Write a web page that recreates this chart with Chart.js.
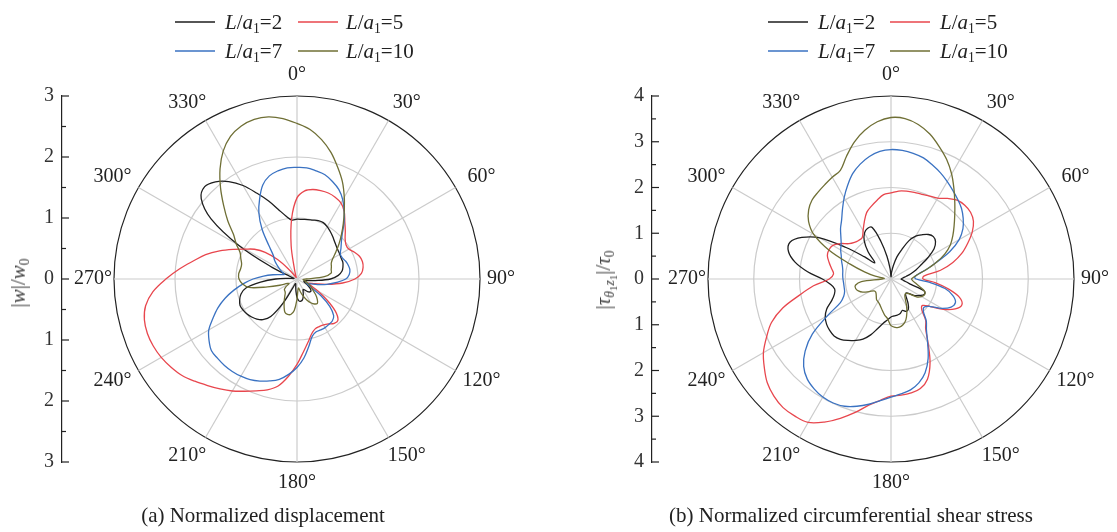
<!DOCTYPE html>
<html>
<head>
<meta charset="utf-8">
<title>Normalized displacement and circumferential shear stress</title>
<script src="https://cdn.jsdelivr.net/npm/chart.js@4.4.1/dist/chart.umd.min.js"></script>
<style>
  html, body { margin: 0; padding: 0; background: #fff; }
  body { width: 1117px; height: 532px; position: relative; overflow: hidden;
         font-family: 'Liberation Serif', 'Times New Roman', serif; color: #222; }
  .chartBox { position: absolute; top: 0; }
  .legLine { position: absolute; width: 40px; height: 4px; line-height: 0; }
  .legLine svg { display: block; }
  .legText { position: absolute; font-size: 21px; line-height: 24px; white-space: nowrap; }
  sub { font-size: 65%; vertical-align: -0.3em; line-height: 0; }
  sub sub { font-size: 80%; vertical-align: -0.25em; }
  .ytitle { position: absolute; font-size: 21px; line-height: 24px; white-space: nowrap; color: #444;
            transform: translate(-50%, -50%) rotate(-90deg); }
  .caption { position: absolute; top: 502px; font-size: 21px; line-height: 26px; white-space: nowrap;
             transform: translateX(-50%); }
</style>
</head>
<body>

<div class="chartBox" style="left:0px"><canvas id="dispChart" width="533" height="532"></canvas></div>
<div class="chartBox" style="left:590px"><canvas id="shearChart" width="541" height="532"></canvas></div>

<div class="ytitle" style="left:18px; top:283px">|<i>w</i>|/<i>w</i><sub>0</sub></div>
<div class="ytitle" style="left:603px; top:280px">|<i>τ</i><sub><i>θ</i><sub>1</sub><i>z</i><sub>1</sub></sub>|/<i>τ</i><sub>0</sub></div>

<div class="caption" style="left:263px">(a) Normalized displacement</div>
<div class="caption" style="left:851px">(b) Normalized circumferential shear stress</div>

<script>
// angle of each sample, degrees clockwise from the top
const angleLabels = [
  0, 5, 10, 15, 20, 25, 30, 35, 40, 45, 50, 55,
  60, 65, 70, 75, 80, 85, 90, 95, 100, 105, 110, 115,
  120, 125, 130, 135, 140, 145, 150, 155, 160, 165, 170, 175,
  180, 185, 190, 195, 200, 205, 210, 215, 220, 225, 230, 235,
  240, 245, 250, 255, 260, 265, 270, 275, 280, 285, 290, 295,
  300, 305, 310, 315, 320, 325, 330, 335, 340, 345, 350, 355
];

const ratioValues = [2, 5, 7, 10];
const seriesNames = ['L/a₁=2', 'L/a₁=5', 'L/a₁=7', 'L/a₁=10'];
const seriesColors = ['#1e1e1e', '#e8464d', '#3a72c2', '#6f6f35'];

// (a) normalized displacement |w|/w0
const dispL2 = [
  0.98, 0.98, 0.99, 1.00, 1.02, 1.02, 0.99, 0.95, 0.91, 0.87, 0.84, 0.82,
  0.81, 0.80, 0.80, 0.78, 0.75, 0.68, 0.55, 0.30, 0.15, 0.12, 0.12, 0.15,
  0.20, 0.26, 0.30, 0.30, 0.27, 0.22, 0.20, 0.24, 0.30, 0.35, 0.37, 0.36,
  0.30, 0.20, 0.12, 0.08, 0.08, 0.15, 0.45, 0.75, 0.87, 0.93, 0.97, 1.00,
  1.02, 1.03, 1.00, 0.95, 0.85, 0.60, 0.35, 0.12, 0.05, 0.06, 0.12, 0.45,
  1.10, 1.72, 2.05, 2.14, 2.08, 1.95, 1.77, 1.55, 1.36, 1.18, 1.05, 0.97
];
const dispL5 = [
  1.33, 1.45, 1.49, 1.50, 1.50, 1.48, 1.44, 1.35, 1.22, 1.12, 1.03, 0.98,
  0.98, 1.04, 1.09, 1.11, 1.10, 1.06, 0.95, 0.75, 0.50, 0.30, 0.20, 0.25,
  0.40, 0.60, 0.82, 0.95, 0.95, 0.90, 0.87, 0.86, 0.87, 0.93, 1.05, 1.20,
  1.40, 1.60, 1.78, 1.88, 1.95, 2.03, 2.12, 2.20, 2.28, 2.37, 2.46, 2.52,
  2.57, 2.60, 2.61, 2.59, 2.52, 2.37, 2.15, 1.93, 1.72, 1.55, 1.35, 1.15,
  0.98, 0.85, 0.68, 0.45, 0.20, 0.06, 0.03, 0.03, 0.06, 0.15, 0.55, 1.00
];
const dispL7 = [
  1.83, 1.83, 1.80, 1.77, 1.70, 1.62, 1.50, 1.35, 1.20, 1.05, 0.95, 0.88,
  0.82, 0.82, 0.85, 0.87, 0.88, 0.86, 0.80, 0.65, 0.50, 0.35, 0.22, 0.18,
  0.25, 0.48, 0.70, 0.85, 0.90, 0.91, 0.92, 0.92, 0.92, 0.97, 1.12, 1.30,
  1.45, 1.57, 1.67, 1.73, 1.78, 1.82, 1.84, 1.85, 1.85, 1.84, 1.83, 1.76,
  1.67, 1.52, 1.38, 1.22, 1.05, 0.88, 0.72, 0.55, 0.40, 0.28, 0.22, 0.27,
  0.33, 0.40, 0.48, 0.55, 0.72, 1.00, 1.25, 1.45, 1.64, 1.75, 1.80, 1.83
];
const dispL10 = [
  2.55, 2.46, 2.32, 2.15, 1.95, 1.76, 1.55, 1.35, 1.18, 1.03, 0.90, 0.78,
  0.68, 0.62, 0.60, 0.58, 0.57, 0.45, 0.15, 0.10, 0.12, 0.15, 0.18, 0.22,
  0.27, 0.32, 0.40, 0.47, 0.52, 0.50, 0.45, 0.38, 0.30, 0.22, 0.15, 0.18,
  0.33, 0.52, 0.59, 0.60, 0.58, 0.50, 0.42, 0.35, 0.30, 0.28, 0.27, 0.22,
  0.15, 0.17, 0.30, 0.50, 0.80, 0.90, 0.95, 0.96, 0.94, 0.94, 0.98, 1.03,
  1.15, 1.27, 1.48, 1.70, 1.95, 2.20, 2.42, 2.58, 2.67, 2.71, 2.70, 2.64
];

// (b) normalized circumferential shear stress |tau|/tau0
const shearL2 = [
  0.05, 0.15, 0.30, 0.50, 0.68, 0.92, 1.08, 1.18, 1.27, 1.31, 1.27, 1.15,
  0.93, 0.72, 0.58, 0.45, 0.34, 0.26, 0.22, 0.26, 0.32, 0.45, 0.78, 0.80,
  0.72, 0.63, 0.48, 0.45, 0.52, 0.65, 0.76, 0.78, 0.73, 0.78, 0.80, 0.81,
  0.83, 0.90, 0.98, 1.12, 1.30, 1.45, 1.55, 1.64, 1.72, 1.76, 1.75, 1.72,
  1.66, 1.55, 1.38, 1.28, 1.25, 1.33, 1.50, 1.83, 2.13, 2.32, 2.35, 2.15,
  1.80, 1.20, 0.75, 0.50, 0.78, 1.02, 1.16, 1.22, 1.20, 0.85, 0.50, 0.22
];
const shearL5 = [
  1.88, 1.93, 1.95, 1.96, 1.97, 2.00, 2.04, 2.15, 2.25, 2.28, 2.27, 2.20,
  2.05, 1.85, 1.65, 1.40, 1.10, 0.72, 0.70, 0.98, 1.28, 1.55, 1.65, 1.55,
  1.33, 1.05, 0.90, 0.95, 1.18, 1.32, 1.62, 2.02, 2.33, 2.48, 2.53, 2.55,
  2.56, 2.66, 2.80, 3.02, 3.24, 3.45, 3.62, 3.66, 3.67, 3.62, 3.53, 3.38,
  3.22, 3.00, 2.78, 2.45, 2.03, 1.70, 1.35, 1.26, 1.32, 1.40, 1.48, 1.50,
  1.47, 1.35, 1.20, 1.13, 1.10, 1.10, 1.22, 1.38, 1.55, 1.65, 1.75, 1.85
];
const shearL7 = [
  2.83, 2.82, 2.79, 2.74, 2.65, 2.56, 2.46, 2.36, 2.27, 2.18, 2.06, 1.92,
  1.72, 1.42, 1.05, 0.80, 0.60, 0.52, 0.55, 0.85, 1.20, 1.40, 1.50, 1.45,
  1.28, 1.05, 0.95, 1.00, 1.20, 1.35, 1.60, 1.92, 2.18, 2.35, 2.46, 2.52,
  2.58, 2.67, 2.78, 2.88, 2.96, 2.99, 2.98, 2.93, 2.85, 2.70, 2.45, 2.10,
  1.60, 1.22, 1.10, 1.05, 1.04, 1.04, 1.05, 1.06, 1.07, 1.10, 1.15, 1.20,
  1.27, 1.33, 1.43, 1.56, 1.68, 1.85, 2.05, 2.25, 2.45, 2.60, 2.72, 2.80
];
const shearL10 = [
  3.53, 3.52, 3.43, 3.28, 3.08, 2.88, 2.65, 2.40, 2.17, 1.97, 1.80, 1.65,
  1.50, 1.30, 1.05, 0.80, 0.60, 0.50, 0.45, 0.48, 0.55, 0.65, 0.78, 0.81,
  0.77, 0.68, 0.50, 0.45, 0.47, 0.55, 0.68, 0.82, 0.95, 1.03, 1.07, 1.06,
  1.02, 0.87, 0.80, 0.72, 0.65, 0.60, 0.57, 0.55, 0.50, 0.46, 0.44, 0.45,
  0.55, 0.68, 0.76, 0.80, 0.79, 0.65, 0.20, 0.15, 0.35, 0.60, 0.95, 1.50,
  1.95, 2.20, 2.35, 2.44, 2.48, 2.52, 2.57, 2.62, 2.85, 3.10, 3.30, 3.45
];

// draws the inward y-axis ticks and the angle labels round the circle
const polarDecor = {
  id: 'polarDecor',
  afterDraw(chart, args, opts) {
    const ctx = chart.ctx;
    const r = chart.scales.r;
    const y = chart.scales.y;
    ctx.save();
    ctx.strokeStyle = '#222';
    ctx.lineWidth = 1.2;
    const x0 = y.right;
    for (let v = -opts.max; v <= opts.max; v += 0.5) {
      const py = y.getPixelForValue(v);
      const len = Number.isInteger(v) ? 7 : 4;
      ctx.beginPath();
      ctx.moveTo(x0, py);
      ctx.lineTo(x0 + len, py);
      ctx.stroke();
    }
    ctx.fillStyle = '#222';
    ctx.font = '20px "Liberation Serif", "Times New Roman", serif';
    ctx.textAlign = 'center';
    ctx.textBaseline = 'middle';
    chart.data.labels.forEach((a, i) => {
      if (a % 30 !== 0) return;
      const rad = a * Math.PI / 180;
      const p = r.getPointPosition(i, r.drawingArea + 21);
      // push the slanted labels a bit sideways, away from the circle
      const x = p.x + 18 * Math.sin(rad) * Math.abs(Math.cos(rad));
      ctx.fillText(a + '°', x, p.y);
    });
    ctx.restore();
  }
};

function makePolar(canvasId, series, rMax) {
  const ctx = document.getElementById(canvasId).getContext('2d');
  return new Chart(ctx, {
    type: 'radar',
    data: {
      labels: angleLabels,
      datasets: series.map((values, i) => ({
        label: seriesNames[i],
        data: values,
        borderColor: seriesColors[i],
        backgroundColor: seriesColors[i],
        borderWidth: 1.3,
        fill: false,
        tension: 0.35,
        pointRadius: 0,
        order: 3 - i
      }))
    },
    options: {
      responsive: false,
      animation: false,
      events: [],
      layout: { padding: { top: 96, bottom: 70, left: 0, right: 0 } },
      plugins: {
        legend: { display: false },
        tooltip: { enabled: false },
        polarDecor: { max: rMax }
      },
      scales: {
        r: {
          min: 0,
          max: rMax,
          startAngle: 0,
          ticks: { display: false, stepSize: 1 },
          pointLabels: { display: false },
          grid: {
            circular: true,
            color: c => c.tick.value === rMax ? '#222' : '#cbcbcb',
            lineWidth: 1.2
          },
          angleLines: {
            color: c => c.index % 6 === 0 ? '#cbcbcb' : 'rgba(0,0,0,0)',
            lineWidth: c => c.index % 6 === 0 ? 1.2 : 0
          }
        },
        y: {
          type: 'linear',
          position: 'left',
          min: -rMax,
          max: rMax,
          afterFit: s => { s.width = 62; },
          grid: { display: false, drawTicks: false },
          border: { display: true, color: '#222', width: 1.2 },
          ticks: {
            stepSize: 1,
            padding: 8,
            color: '#333',
            font: { family: '"Liberation Serif", "Times New Roman", serif', size: 20 },
            callback: v => String(Math.abs(v))
          }
        }
      }
    },
    plugins: [polarDecor]
  });
}

const dispChart = makePolar('dispChart', [dispL2, dispL5, dispL7, dispL10], 3);
const shearChart = makePolar('shearChart', [shearL2, shearL5, shearL7, shearL10], 4);

// HTML legends (two rows of two entries) above each panel
function addLegend(lineXs, textXs) {
  const rowsY = [22, 51];
  ratioValues.forEach((val, i) => {
    const row = Math.floor(i / 2), col = i % 2;
    const line = document.createElement('div');
    line.className = 'legLine';
    line.style.left = lineXs[col] + 'px';
    line.style.top = (rowsY[row] - 2) + 'px';
    line.innerHTML = '<svg width="40" height="4"><line x1="0" y1="2" x2="40" y2="2" stroke="' +
      seriesColors[i] + '" stroke-width="1.5"/></svg>';
    document.body.appendChild(line);
    const txt = document.createElement('div');
    txt.className = 'legText';
    txt.style.left = textXs[col] + 'px';
    txt.style.top = (rowsY[row] - 12) + 'px';
    txt.innerHTML = '<i>L</i>/<i>a</i><sub>1</sub>=' + val;
    document.body.appendChild(txt);
  });
}
addLegend([175, 298], [225, 346]);
addLegend([768, 890], [818, 940]);
</script>
</body>
</html>
